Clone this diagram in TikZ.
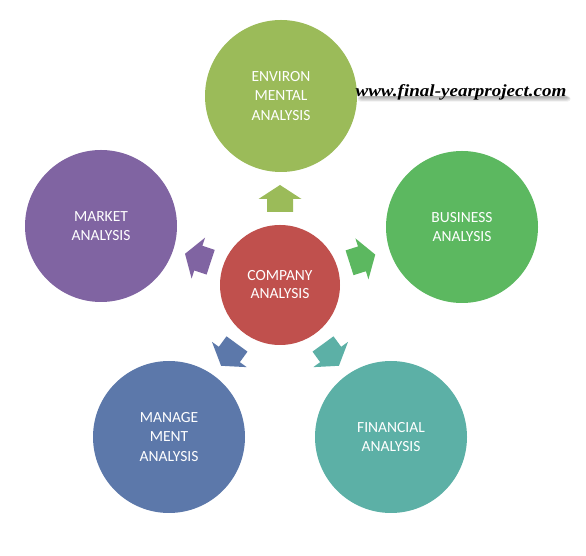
\documentclass[tikz,border=0pt]{standalone}
\usepackage{fontspec}
\usetikzlibrary{backgrounds}
\setmainfont{Carlito}
\newfontfamily\wmfont{Liberation Serif}
\definecolor{compcol}{RGB}{192,80,77}
\definecolor{envcol}{RGB}{155,187,89}
\definecolor{buscol}{RGB}{92,184,96}
\definecolor{mktcol}{RGB}{128,100,162}
\definecolor{mgmtcol}{RGB}{92,120,170}
\definecolor{fincol}{RGB}{92,176,166}
\tikzset{
  bigcirc/.style={circle, minimum size=152pt, inner sep=0pt, draw=none, text=white,
    align=center, font=\fontsize{15.5}{19.5}\selectfont},
  compcirc/.style={circle, minimum size=120pt, inner sep=0pt, draw=none, text=white,
    align=center, font=\fontsize{15.5}{18}\selectfont},
  wmstyle/.style={text=black, font=\wmfont\bfseries\itshape\fontsize{17}{20}\selectfont,
    xscale=1.12, transform shape, inner sep=0pt},
  wmshadow/.style={black, opacity=0.06, rounded corners=3pt},
}
\newcommand{\blockarr}[2]{%
  \fill[#2, shift={(comp.center)}, rotate=#1]
    (73,-13) -- (86,-13) -- (86,-21.5) -- (100,0) -- (86,21.5) -- (86,13) -- (73,13) -- cycle;}
\begin{document}
\begin{tikzpicture}[x=1pt,y=1pt]
\useasboundingbox (0,0) rectangle (586,556);
\node[compcirc, fill=compcol] (comp) at (280,271) {COMPANY\\ANALYSIS};
\node[bigcirc, fill=envcol] (env) at (281,460) {ENVIRON\\MENTAL\\ANALYSIS};
\node[bigcirc, fill=buscol] (bus) at (462,329) {BUSINESS\\ANALYSIS};
\node[bigcirc, fill=mktcol] (mkt) at (101,330) {MARKET\\ANALYSIS};
\node[bigcirc, fill=mgmtcol] (mgmt) at (169,119) {MANAGE\\MENT\\ANALYSIS};
\node[bigcirc, fill=fincol] (fin) at (391,119) {FINANCIAL\\ANALYSIS};
\blockarr{90}{envcol}
\blockarr{17.7}{buscol}
\blockarr{161.8}{mktcol}
\blockarr{233.9}{mgmtcol}
\blockarr{306.1}{fincol}
\node[wmstyle] (wm) at (461,464) {www.final-yearproject.com};
\begin{pgfonlayer}{background}
\foreach \i in {0,...,5}{
  \fill[wmshadow] ([xshift={2pt+\i*0.8pt}]wm.west |- wm.base) ++(0,{-5.5+\i*0.8})
    rectangle ([xshift={4pt-\i*0.8pt}]wm.east |- wm.base) ++(0,{-\i*0.8}) ++(0,7);
}
\end{pgfonlayer}
\end{tikzpicture}
\end{document}
